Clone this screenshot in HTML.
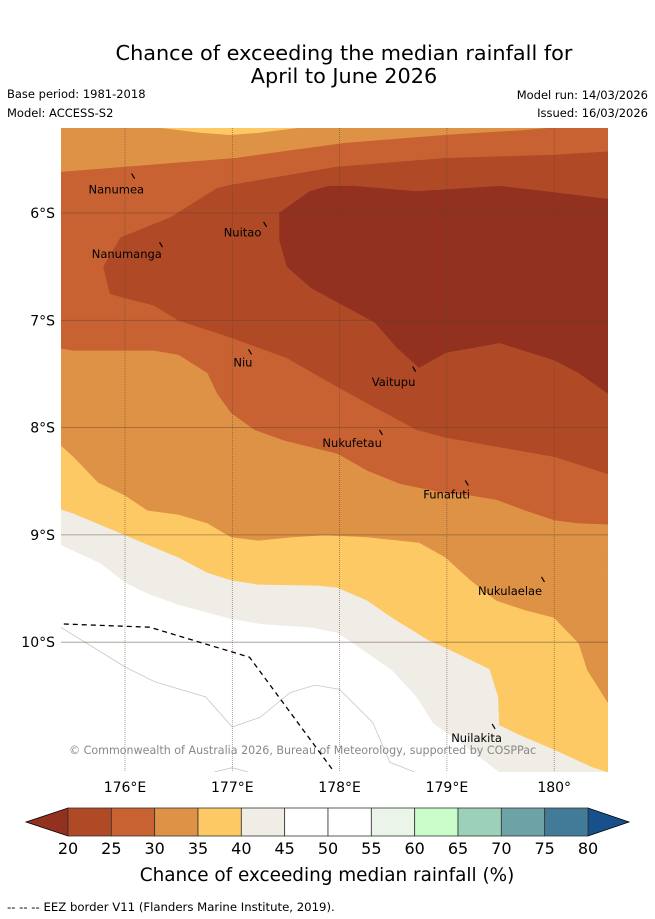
<!DOCTYPE html>
<html><head><meta charset="utf-8">
<style>
body{margin:0;background:#fff;font-family:"DejaVu Sans","Liberation Sans",sans-serif;}
#wrap{position:relative;width:655px;height:919px;overflow:hidden;}
svg text{font-family:"DejaVu Sans","Liberation Sans",sans-serif;}
</style></head>
<body>
<div id="wrap">
<svg id="svg" width="655" height="919" viewBox="0 0 655 919">
  <text x="344" y="60" font-size="20.8" text-anchor="middle">Chance of exceeding the median rainfall for</text>
  <text x="344" y="83" font-size="20.8" text-anchor="middle">April to June 2026</text>
  <text x="7" y="98" font-size="11.5">Base period: 1981-2018</text>
  <text x="7" y="117" font-size="11.5">Model: ACCESS-S2</text>
  <text x="648" y="99" font-size="11.5" text-anchor="end">Model run: 14/03/2026</text>
  <text x="648" y="117" font-size="11.5" text-anchor="end">Issued: 16/03/2026</text>
  <defs><clipPath id="mapclip"><rect x="61" y="128" width="547" height="644"/></clipPath></defs>
  <g id="map" clip-path="url(#mapclip)">
    <rect x="61" y="128" width="547" height="644" fill="#ffffff"/>
  </g>
  <g id="axes"></g>
  <g id="cbar"></g>
  <text x="327" y="881" font-size="18.4" text-anchor="middle">Chance of exceeding median rainfall (%)</text>
  <text x="7" y="911" font-size="11.7">-- -- -- EEZ border V11 (Flanders Marine Institute, 2019).</text>
</svg>
</div>
<script>
// ---- data (lon °E, lat °S) ----
const lonTicks = [176, 177, 178, 179, 180];
const lonLabels = ["176°E", "177°E", "178°E", "179°E", "180°"];
const latTicks = [6, 7, 8, 9, 10];
const latLabels = ["6°S", "7°S", "8°S", "9°S", "10°S"];
const levelValues = [20, 25, 30, 35, 40, 45, 50, 55, 60, 65, 70, 75, 80];
const levelColors = ["#b04a26", "#c96232", "#de9245", "#fdc964", "#f0ece6", "#ffffff", "#ffffff", "#eaf4e8", "#c9fcc8", "#9dd0b8", "#6da2a6", "#427b98"];
const underColor = "#933120";
const overColor = "#17508a";

const line45 = [[175.40,9.09],[175.77,9.26],[176.00,9.44],[176.20,9.54],[176.50,9.65],[176.99,9.78],[177.28,9.83],[177.74,9.86],[177.98,9.91],[178.13,10.01],[178.49,10.26],[178.72,10.51],[178.87,10.75],[179.19,10.98],[179.49,11.21],[180.50,11.21]];
const line40 = [[175.40,8.76],[175.52,8.80],[176.00,9.00],[176.50,9.21],[176.77,9.35],[176.99,9.42],[177.24,9.46],[177.79,9.47],[177.98,9.49],[178.26,9.61],[178.49,9.77],[178.83,9.98],[178.99,10.05],[179.40,10.25],[179.48,10.51],[179.49,10.77],[179.65,10.85],[180.00,11.00],[180.35,11.16],[180.50,11.21]];
const line35 = [[175.40,8.16],[175.52,8.27],[175.75,8.51],[176.00,8.63],[176.21,8.77],[176.50,8.81],[176.77,8.89],[176.99,9.02],[177.24,9.05],[177.56,9.02],[177.86,9.00],[178.26,9.02],[178.74,9.07],[178.99,9.21],[179.22,9.42],[179.46,9.61],[179.73,9.70],[180.00,9.77],[180.23,10.01],[180.31,10.26],[180.50,10.56]];
const patchTop = [[176.30,5.20],[176.70,5.25],[176.98,5.27],[177.25,5.25],[177.65,5.20]];
const line30North = [[175.40,5.62],[176.02,5.57],[177.03,5.49],[178.04,5.35],[179.05,5.27],[179.72,5.23],[180.05,5.20],[180.50,5.20]];
const line30South = [[175.40,7.26],[175.52,7.28],[176.27,7.28],[176.50,7.32],[176.77,7.49],[176.86,7.68],[176.99,7.86],[177.21,8.02],[177.49,8.12],[177.98,8.24],[178.26,8.40],[178.56,8.52],[178.99,8.61],[179.22,8.63],[179.46,8.67],[179.73,8.77],[180.00,8.86],[180.23,8.89],[180.50,8.90]];
const ring25 = [[180.50,5.43],[180.00,5.46],[178.99,5.49],[177.98,5.57],[176.99,5.74],[176.86,5.77],[176.43,6.04],[175.96,6.23],[175.80,6.50],[175.86,6.75],[175.96,6.78],[176.27,6.86],[176.50,7.00],[176.99,7.16],[177.51,7.35],[177.98,7.62],[178.33,7.81],[178.72,8.02],[178.99,8.09],[179.49,8.18],[180.00,8.27],[180.50,8.43]];
const ring20 = [[177.44,6.00],[177.72,5.80],[177.90,5.75],[178.13,5.75],[178.72,5.80],[179.49,5.75],[180.00,5.81],[180.50,5.87],[180.50,7.68],[180.23,7.49],[180.00,7.37],[179.49,7.21],[178.99,7.30],[178.74,7.44],[178.53,7.25],[178.33,7.02],[177.98,6.83],[177.74,6.70],[177.51,6.50],[177.44,6.25]];

const eezLine = [[175.43,9.83],[176.23,9.86],[177.16,10.14],[177.95,11.21]];
const reefLine = [[175.40,9.86],[176.00,10.23],[176.28,10.37],[176.75,10.51],[177.00,10.79],[177.26,10.70],[177.54,10.47],[177.77,10.40],[178.00,10.44],[178.31,10.75],[178.47,11.12],[178.70,11.21]];
const reefLine2 = [[176.83,11.21],[177.00,11.17],[177.15,11.21]];

const islandNames = ["Nanumea","Nuitao","Nanumanga","Niu","Vaitupu","Nukufetau","Funafuti","Nukulaelae","Nuilakita"];
const islandLon = [176.08, 177.31, 176.34, 177.17, 178.70, 178.39, 179.19, 179.90, 179.44];
const islandLat = [5.66, 6.11, 6.30, 7.30, 7.46, 8.05, 8.52, 9.42, 10.79];
const labelLon = [175.66, 176.92, 175.69, 177.01, 178.30, 177.84, 178.78, 179.29, 179.04];
const labelLat = [5.82, 6.22, 6.42, 7.43, 7.61, 8.18, 8.66, 9.56, 10.93];

// ---- axis functions ----
const X0 = 125, Y0 = 213, PX = 107.3;
function xOf(lon){ return X0 + (lon - 176) * PX; }
function yOf(lat){ return Y0 + (lat - 6) * PX; }
const MAP_L = 61, MAP_R = 608, MAP_T = 128, MAP_B = 772;
const NS = "http://www.w3.org/2000/svg";
function pts(arr){ return arr.map(p => xOf(p[0]).toFixed(1) + "," + yOf(p[1]).toFixed(1)).join(" "); }

const map = document.getElementById("map");
function poly(points, fill, name){
  const el = document.createElementNS(NS, "polygon");
  el.setAttribute("points", points);
  el.setAttribute("fill", fill);
  el.setAttribute("stroke", fill);
  el.setAttribute("stroke-width", "0.6");
  
  
  map.appendChild(el);
}
const topL = MAP_L + "," + MAP_T, topR = MAP_R + "," + MAP_T;
poly(pts(line45) + " " + topR + " " + topL, levelColors[4], "region-40-45");
poly(pts(line40) + " " + topR + " " + topL, levelColors[3], "region-35-40");
poly(pts(line35) + " " + topR + " " + topL, levelColors[2], "region-30-35");
poly(pts(patchTop), levelColors[3], "region-35-40-north");
poly(pts(line30North) + " " + pts(line30South.slice().reverse()), levelColors[1], "region-25-30");
poly(pts(ring25), levelColors[0], "region-20-25");
poly(pts(ring20), underColor, "region-below-20");

function line(arr, attrs, name){
  const el = document.createElementNS(NS, "polyline");
  el.setAttribute("points", pts(arr));
  el.setAttribute("fill", "none");
  for (const k in attrs) el.setAttribute(k, attrs[k]);
  
  
  map.appendChild(el);
}
line(reefLine, {stroke:"#c8c8c0","stroke-width":"0.8"}, "reef-outline");
line(reefLine2, {stroke:"#c8c8c0","stroke-width":"0.8"}, "reef-outline-2");

lonTicks.forEach((lon, i) => {
  const g = document.createElementNS(NS, "line");
  g.setAttribute("x1", xOf(lon)); g.setAttribute("x2", xOf(lon));
  g.setAttribute("y1", MAP_T); g.setAttribute("y2", MAP_B);
  g.setAttribute("stroke", "#5a4030"); g.setAttribute("stroke-width", "0.7");
  g.setAttribute("stroke-dasharray", "1,1"); g.setAttribute("opacity", "0.7");
  
  
  map.appendChild(g);
});
latTicks.forEach((lat, i) => {
  const g = document.createElementNS(NS, "line");
  g.setAttribute("x1", MAP_L); g.setAttribute("x2", MAP_R);
  g.setAttribute("y1", yOf(lat)); g.setAttribute("y2", yOf(lat));
  g.setAttribute("stroke", "#5a4030"); g.setAttribute("stroke-width", "0.8");
  g.setAttribute("opacity", "0.55");
  
  
  map.appendChild(g);
});

line(eezLine, {stroke:"#000","stroke-width":"1.3","stroke-dasharray":"5,4"}, "eez-border");

islandNames.forEach((nm, i) => {
  const m = document.createElementNS(NS, "line");
  m.setAttribute("x1", xOf(islandLon[i]) - 2); m.setAttribute("y1", yOf(islandLat[i]) - 3);
  m.setAttribute("x2", xOf(islandLon[i]) + 1); m.setAttribute("y2", yOf(islandLat[i]) + 2);
  m.setAttribute("stroke", "#000"); m.setAttribute("stroke-width", "1.2");
  
  
  map.appendChild(m);
  const t = document.createElementNS(NS, "text");
  t.setAttribute("x", xOf(labelLon[i])); t.setAttribute("y", yOf(labelLat[i]));
  t.setAttribute("font-size", "11.5"); t.setAttribute("fill", "#000");
  t.textContent = nm;
  
  
  map.appendChild(t);
});

const cp = document.createElementNS(NS, "text");
cp.setAttribute("x", 69); cp.setAttribute("y", 754);
cp.setAttribute("font-size", "11.1"); cp.setAttribute("fill", "#888");
cp.textContent = "© Commonwealth of Australia 2026, Bureau of Meteorology, supported by COSPPac";


map.appendChild(cp);

const axes = document.getElementById("axes");
lonTicks.forEach((lon, i) => {
  const t = document.createElementNS(NS, "text");
  t.setAttribute("x", xOf(lon)); t.setAttribute("y", 792);
  t.setAttribute("font-size", "14"); t.setAttribute("text-anchor", "middle");
  t.textContent = lonLabels[i];
  
  
  axes.appendChild(t);
});
latTicks.forEach((lat, i) => {
  const t = document.createElementNS(NS, "text");
  t.setAttribute("x", 55); t.setAttribute("y", yOf(lat) + 5);
  t.setAttribute("font-size", "14"); t.setAttribute("text-anchor", "end");
  t.textContent = latLabels[i];
  
  
  axes.appendChild(t);
});

const cbar = document.getElementById("cbar");
const CB_L = 68, CB_R = 588, CB_T = 808, CB_B = 836;
const cbStep = (CB_R - CB_L) / (levelValues.length - 1);
function cbX(v){ return CB_L + (v - levelValues[0]) / (levelValues[1] - levelValues[0]) * cbStep; }
const lt = document.createElementNS(NS, "polygon");
lt.setAttribute("points", `${CB_L},${CB_T} ${CB_L},${CB_B} 26,${(CB_T+CB_B)/2}`);
lt.setAttribute("fill", underColor); lt.setAttribute("stroke", "#000"); lt.setAttribute("stroke-width", "0.8");


cbar.appendChild(lt);
const rt = document.createElementNS(NS, "polygon");
rt.setAttribute("points", `${CB_R},${CB_T} ${CB_R},${CB_B} 629,${(CB_T+CB_B)/2}`);
rt.setAttribute("fill", overColor); rt.setAttribute("stroke", "#000"); rt.setAttribute("stroke-width", "0.8");


cbar.appendChild(rt);
levelColors.forEach((c, i) => {
  const r = document.createElementNS(NS, "rect");
  r.setAttribute("x", cbX(levelValues[i])); r.setAttribute("y", CB_T);
  r.setAttribute("width", cbX(levelValues[i+1]) - cbX(levelValues[i])); r.setAttribute("height", CB_B - CB_T);
  r.setAttribute("fill", c); r.setAttribute("stroke", "#333"); r.setAttribute("stroke-width", "0.8");
  
  
  cbar.appendChild(r);
});
levelValues.forEach((v, i) => {
  const t = document.createElementNS(NS, "text");
  t.setAttribute("x", cbX(v)); t.setAttribute("y", 854);
  t.setAttribute("font-size", "16"); t.setAttribute("text-anchor", "middle");
  t.textContent = String(v);
  
  
  cbar.appendChild(t);
});
</script>
</body></html>
